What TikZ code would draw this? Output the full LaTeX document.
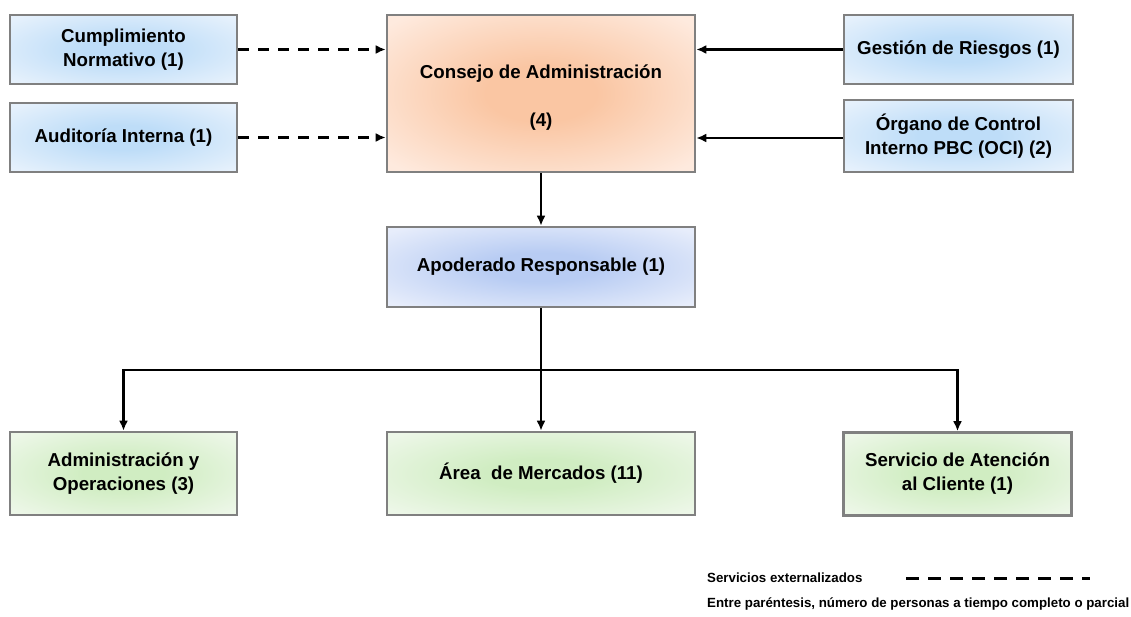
\documentclass[tikz,border=0pt]{standalone}
\usepackage{fontspec}
\setmainfont{Liberation Sans}
\usetikzlibrary{arrows.meta,calc}
\definecolor{bIn}{RGB}{190,221,248}
\definecolor{bOut}{RGB}{230,241,252}
\definecolor{oIn}{RGB}{250,198,163}
\definecolor{oOut}{RGB}{254,234,222}
\definecolor{aIn}{RGB}{184,204,243}
\definecolor{aOut}{RGB}{231,237,251}
\definecolor{gIn}{RGB}{208,237,194}
\definecolor{gOut}{RGB}{237,247,232}
\definecolor{bordergray}{RGB}{128,128,128}
\pgfdeclareradialshading{blueglow}{\pgfpoint{0bp}{0bp}}{color(0bp)=(bIn); color(9bp)=(bIn); color(33bp)=(bOut); color(50bp)=(bOut)}
\pgfdeclareradialshading{orangeglow}{\pgfpoint{0bp}{0bp}}{color(0bp)=(oIn); color(9bp)=(oIn); color(33bp)=(oOut); color(50bp)=(oOut)}
\pgfdeclareradialshading{apoglow}{\pgfpoint{0bp}{0bp}}{color(0bp)=(aIn); color(9bp)=(aIn); color(33bp)=(aOut); color(50bp)=(aOut)}
\pgfdeclareradialshading{greenglow}{\pgfpoint{0bp}{0bp}}{color(0bp)=(gIn); color(9bp)=(gIn); color(33bp)=(gOut); color(50bp)=(gOut)}
\tikzset{
  boxtext/.style={align=center, inner sep=0pt, font=\fontsize{18.7}{24}\selectfont\bfseries},
  box/.style={boxtext, draw=bordergray, line width=2.6pt, rectangle},
  bluebox/.style={box, shading=blueglow},
  orangebox/.style={box, shading=orangeglow},
  apobox/.style={box, shading=apoglow},
  greenbox/.style={box, shading=greenglow},
  conn/.style={line width=2.6pt, -{Latex[length=10pt,width=9pt]}},
  dconn/.style={conn, dash pattern=on 11pt off 9pt},
  legend/.style={font=\fontsize{13.3}{15}\selectfont\bfseries, anchor=west, inner sep=0pt}
}
\begin{document}
\begin{tikzpicture}[x=1pt,y=-1pt]
\useasboundingbox[fill=white] (0,0) rectangle (1131,617);
\node[bluebox, minimum width=227pt, minimum height=69pt] (cum) at (123.5,49.5) {Cumplimiento\\Normativo (1)};
\node[bluebox, minimum width=227pt, minimum height=69pt] (aud) at (123.5,137.5) {Auditoría Interna (1)};
\node[orangebox, minimum width=308pt, minimum height=157pt] (con) at (541,93.5) {};
\node[boxtext] (contxt) at (541,97.5) {Consejo de Administración\\[24pt](4)};
\node[bluebox, minimum width=229pt, minimum height=69pt] (ges) at (958.5,49.5) {Gestión de Riesgos (1)};
\node[bluebox, minimum width=229pt, minimum height=72pt] (org) at (958.5,136) {Órgano de Control\\Interno PBC (OCI) (2)};
\node[apobox, minimum width=308pt, minimum height=80pt] (apo) at (541,267) {Apoderado Responsable (1)};
\node[greenbox, minimum width=227pt, minimum height=83pt] (adm) at (123.5,473.5) {Administración y\\Operaciones (3)};
\node[greenbox, minimum width=308pt, minimum height=83pt] (are) at (541,473.5) {Área\ \ de Mercados (11)};
\node[greenbox, minimum width=228pt, minimum height=83pt] (ser) at (957.5,474) {Servicio de Atención\\al Cliente (1)};

\draw[dconn] (cum.east) -- (cum.east -| con.west);
\draw[dconn] (aud.east) -- (aud.east -| con.west);
\draw[conn] (ges.west) -- (ges.west -| con.east);
\draw[conn] ($(org.west)+(0,2)$) -- ($(org.west -| con.east)+(0,2)$);
\draw[conn] (con.south) -- (apo.north);
\coordinate (split) at (541,370);
\draw[line width=2.6pt] (apo.south) -- (split);
\draw[conn] (split) -| (adm.north);
\draw[conn] (split) -- (are.north);
\draw[conn] (split) -| (ser.north);

\node[legend] (leg1) at (707,578) {Servicios externalizados};
\coordinate (lda) at (906,578);
\coordinate (ldb) at (1090,578);
\draw[line width=3pt, dash pattern=on 13pt off 9pt] (lda) -- (ldb);
\node[legend] (leg2) at (707,604) {Entre paréntesis, número de personas a tiempo completo o parcial};
\end{tikzpicture}
\end{document}
